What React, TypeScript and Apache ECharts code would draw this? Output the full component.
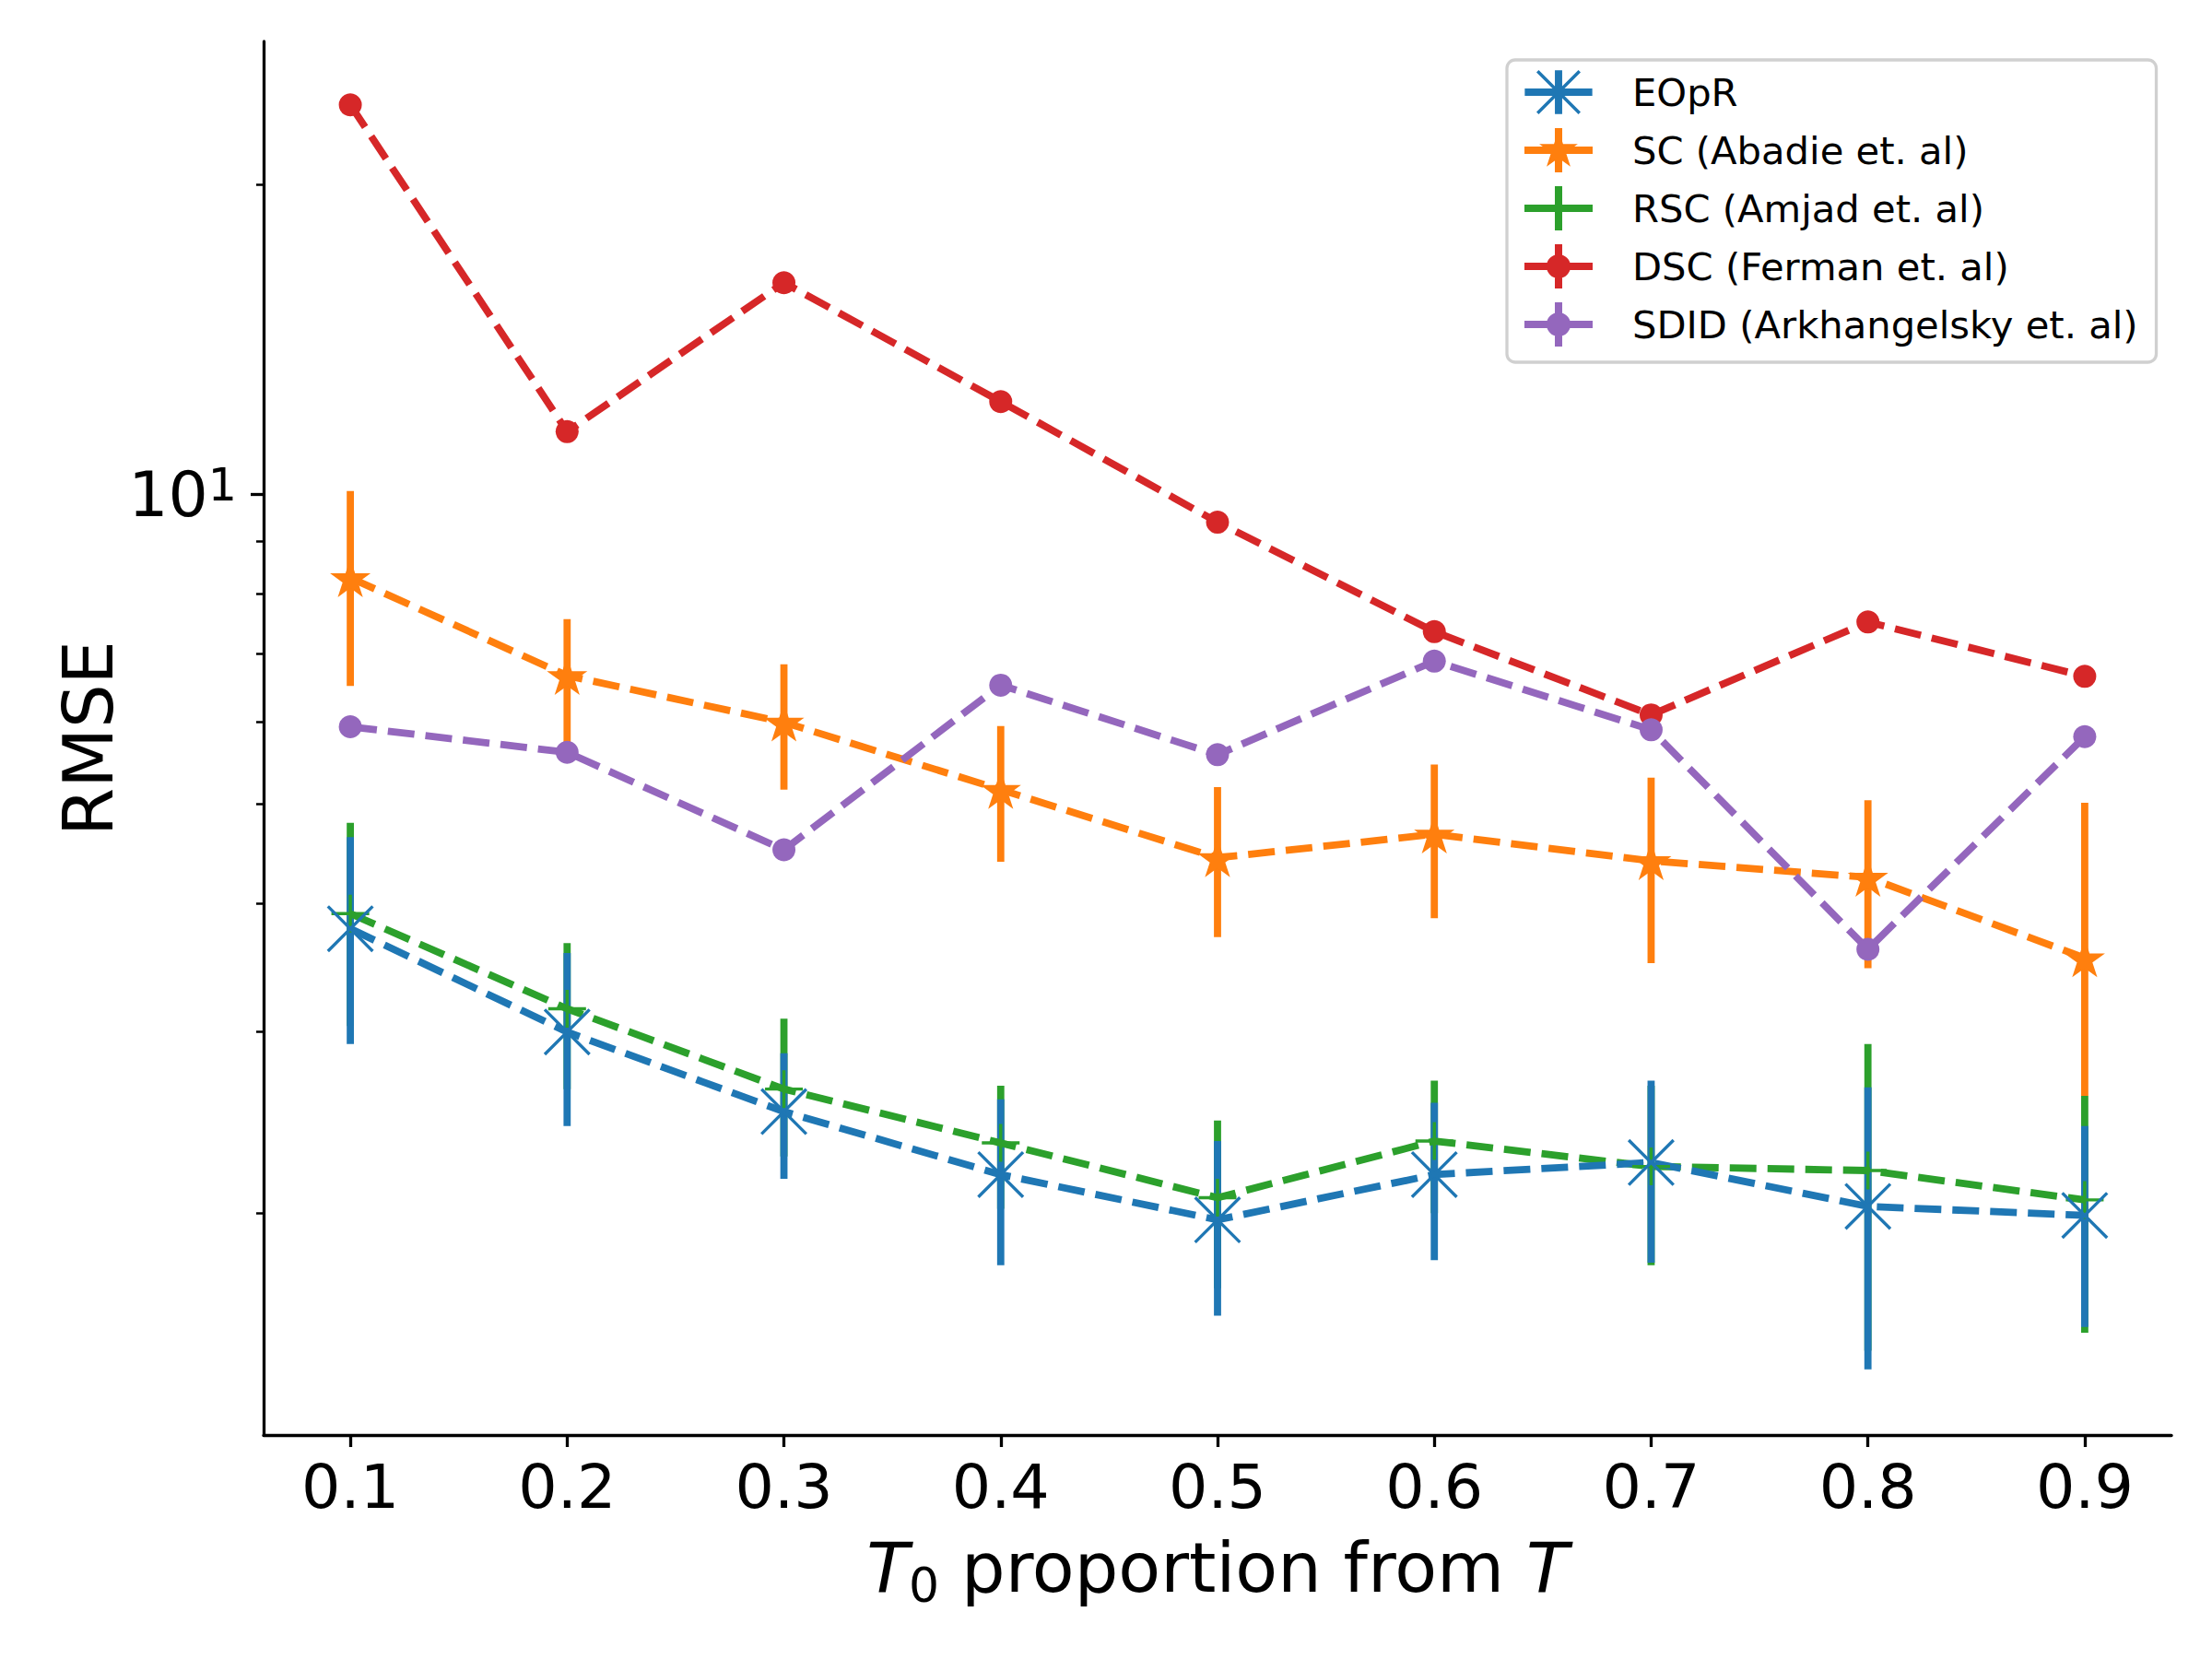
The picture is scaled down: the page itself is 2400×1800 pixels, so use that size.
import React, { useEffect, useRef } from 'react';
import * as echarts from 'echarts';

// ---------- data ----------
const xValues = [0.1, 0.2, 0.3, 0.4, 0.5, 0.6, 0.7, 0.8, 0.9];
const xTickValues = [0.1, 0.2, 0.3, 0.4, 0.5, 0.6, 0.7, 0.8, 0.9];
const yMinorTicks = [2, 3, 4, 5, 6, 7, 8, 9, 20];
const yMajorTicks = [10];

const seriesNames = [
  'EOpR',
  'SC (Abadie et. al)',
  'RSC (Amjad et. al)',
  'DSC (Ferman et. al)',
  'SDID (Arkhangelsky et. al)',
];

const eoprMean = [3.78, 3.0, 2.51, 2.18, 1.97, 2.18, 2.24, 2.03, 1.99];
const eoprLow = [2.92, 2.43, 2.16, 1.78, 1.59, 1.8, 1.79, 1.41, 1.55];
const eoprHigh = [4.64, 3.58, 2.86, 2.58, 2.35, 2.56, 2.69, 2.65, 2.43];

const scMean = [8.29, 6.66, 6.0, 5.16, 4.43, 4.67, 4.4, 4.24, 3.54];
const scLow = [6.51, 5.68, 5.16, 4.39, 3.71, 3.87, 3.5, 3.46, 2.6];
const scHigh = [10.07, 7.56, 6.83, 5.95, 5.19, 5.46, 5.3, 5.04, 5.01];

const rscMean = [3.91, 3.16, 2.64, 2.34, 2.07, 2.35, 2.22, 2.2, 2.06];
const rscLow = [3.04, 2.64, 2.27, 2.02, 1.69, 2.0, 1.78, 1.47, 1.53];
const rscHigh = [4.79, 3.66, 3.09, 2.66, 2.46, 2.69, 2.66, 2.92, 2.6];

const dscMean = [23.9, 11.5, 16.05, 12.3, 9.39, 7.35, 6.1, 7.51, 6.65];
const sdidMean = [5.94, 5.61, 4.51, 6.52, 5.58, 6.88, 5.9, 3.61, 5.81];

// ---------- styling ----------
const FONT = 'DejaVu Sans';
const C_BLUE = '#1f77b4';
const C_ORANGE = '#ff7f0e';
const C_GREEN = '#2ca02c';
const C_RED = '#d62728';
const C_PURPLE = '#9467bd';

// ---------- shape helpers (geometry only) ----------
const f = (n: number) => n.toFixed(3);
const rect = (x: number, y: number, w: number, h: number) =>
  `M${f(x)},${f(y)}L${f(x + w)},${f(y)}L${f(x + w)},${f(y + h)}L${f(x)},${f(y + h)}Z`;
const seg = (x1: number, y1: number, x2: number, y2: number, t: number) => {
  const dx = x2 - x1;
  const dy = y2 - y1;
  const len = Math.hypot(dx, dy);
  const nx = (-dy / len) * (t / 2);
  const ny = (dx / len) * (t / 2);
  return `M${f(x1 - nx)},${f(y1 - ny)}L${f(x2 - nx)},${f(y2 - ny)}L${f(x2 + nx)},${f(y2 + ny)}L${f(x1 + nx)},${f(y1 + ny)}Z`;
};
const star = (cx: number, cy: number, ro: number, ri: number) => {
  let d = '';
  for (let k = 0; k < 10; k++) {
    const r = k % 2 === 0 ? ro : ri;
    const a = ((-90 + 36 * k) * Math.PI) / 180;
    d += `${k === 0 ? 'M' : 'L'}${f(cx + r * Math.cos(a))},${f(cy + r * Math.sin(a))}`;
  }
  return d + 'Z';
};
const circle = (cx: number, cy: number, r: number) =>
  `M${f(cx - r)},${f(cy)}A${f(r)},${f(r)},0,0,1,${f(cx + r)},${f(cy)}A${f(r)},${f(r)},0,0,1,${f(cx - r)},${f(cy)}Z`;

const xSymbol = 'path://' + seg(-1, -1, 1, 1, 0.14) + seg(1, -1, -1, 1, 0.14);
const plusSymbol = 'path://' + seg(-1, 0, 1, 0, 0.17) + seg(0, -1, 0, 1, 0.17);
const starSymbol = 'path://' + star(0, 0, 1, 0.382);

// legend icons: 74 x 48 box, handle line + errorbar + marker
const IW = 74;
const IH = 48;
const iconBase = rect(0, IH / 2 - 4, IW, 8) + rect(IW / 2 - 4, 0, 8, IH);
const legendIcons = [
  'path://' + iconBase + seg(IW / 2 - 23, IH / 2 - 23, IW / 2 + 23, IH / 2 + 23, 3.5) + seg(IW / 2 + 23, IH / 2 - 23, IW / 2 - 23, IH / 2 + 23, 3.5),
  'path://' + iconBase + star(IW / 2, IH / 2, 22, 8.4),
  'path://' + iconBase,
  'path://' + iconBase + circle(IW / 2, IH / 2, 13),
  'path://' + iconBase + circle(IW / 2, IH / 2, 13),
];

function lineSeries(name: string, values: number[], color: string, symbol: string, size: number | number[]) {
  return {
    type: 'line',
    name,
    data: xValues.map((x, i) => [x, values[i]]),
    symbol,
    symbolSize: size,
    symbolKeepAspect: true,
    showAllSymbol: true,
    lineStyle: { color, width: 7.8, type: [29, 12], cap: 'butt' },
    itemStyle: { color, borderWidth: 0 },
    emphasis: { disabled: true },
    silent: true,
  };
}

function errSeries(name: string, lo: number[], hi: number[], color: string) {
  return {
    type: 'custom',
    name,
    data: xValues.map((x, i) => [x, lo[i], hi[i]]),
    encode: { x: 0, y: [1, 2] },
    silent: true,
    renderItem: (_params: any, api: any) => {
      const x = api.value(0);
      const a = api.coord([x, api.value(1)]);
      const b = api.coord([x, api.value(2)]);
      return {
        type: 'line',
        shape: { x1: a[0], y1: a[1], x2: b[0], y2: b[1] },
        style: { stroke: color, lineWidth: 7.8, lineCap: 'butt' },
      };
    },
  };
}

const Y_MIN = 1.217;
const Y_MAX = 27.54;

export default function App() {
  const ref = useRef<HTMLDivElement>(null);

  useEffect(() => {
    if (!ref.current) return;
    const chart = echarts.init(ref.current, undefined, { renderer: 'svg' });
    const baseY = {
      type: 'log',
      logBase: 10,
      min: Y_MIN,
      max: Y_MAX,
      position: 'left',
      splitLine: { show: false },
    };
    chart.setOption({
      animation: false,
      backgroundColor: '#ffffff',
      textStyle: { fontFamily: FONT },
      grid: { left: 286, right: 44, top: 45, bottom: 243, outerBoundsMode: 'none' },
      xAxis: {
        type: 'value',
        min: 0.06,
        max: 0.94,
        splitLine: { show: false },
        axisLine: { show: true, lineStyle: { color: '#000', width: 3.3 } },
        axisTick: { show: true, customValues: xTickValues, length: 13, lineStyle: { color: '#000', width: 3.3 } },
        axisLabel: {
          customValues: xTickValues,
          formatter: (v: number) => v.toFixed(1),
          fontFamily: FONT,
          fontSize: 66.7,
          color: '#000',
          margin: 22,
        },
        name: '{i|T}{sub|0}{n| proportion from }{i|T}',
        nameLocation: 'middle',
        nameGap: 106,
        nameTextStyle: {
          fontFamily: FONT,
          fontSize: 75,
          color: '#000',
          rich: {
            i: { fontFamily: FONT, fontSize: 75, fontStyle: 'italic', lineHeight: 75, color: '#000' },
            n: { fontFamily: FONT, fontSize: 75, lineHeight: 75, color: '#000' },
            sub: { fontFamily: FONT, fontSize: 52, lineHeight: 36, padding: [38, 0, 0, 0], color: '#000' },
          },
        },
      },
      yAxis: [
        {
          ...baseY,
          axisLine: { show: true, lineStyle: { color: '#000', width: 3.3 } },
          axisTick: { show: true, customValues: yMinorTicks, length: 8, lineStyle: { color: '#000', width: 2.5 } },
          axisLabel: { show: false },
          name: 'RMSE',
          nameLocation: 'middle',
          nameGap: 153,
          nameTextStyle: { fontFamily: FONT, fontSize: 75, color: '#000' },
        },
        {
          ...baseY,
          axisLine: { show: false },
          axisTick: { show: true, customValues: yMajorTicks, length: 14, lineStyle: { color: '#000', width: 3.3 } },
          axisLabel: {
            customValues: yMajorTicks,
            formatter: () => '{b|10}{s|1}',
            margin: 29,
            rich: {
              b: { fontFamily: FONT, fontSize: 68, lineHeight: 68, color: '#000' },
              s: { fontFamily: FONT, fontSize: 49, lineHeight: 38, verticalAlign: 'top', color: '#000' },
            },
          },
        },
      ],
      legend: {
        orient: 'vertical',
        left: 1635,
        top: 65,
        padding: [11, 20, 17, 19],
        itemWidth: IW,
        itemHeight: IH,
        itemGap: 15,
        backgroundColor: '#ffffff',
        borderColor: '#d0d0d0',
        borderWidth: 3.3,
        borderRadius: 9,
        selectedMode: false,
        itemStyle: { borderWidth: 0 },
        textStyle: { fontFamily: FONT, fontSize: 41.7, color: '#000', lineHeight: 48, padding: [0, 0, 0, 38] },
        data: seriesNames.map((name, i) => ({ name, icon: legendIcons[i] })),
      },
      series: [
        errSeries('SC err', scLow, scHigh, C_ORANGE),
        lineSeries(seriesNames[1], scMean, C_ORANGE, starSymbol, 44),
        errSeries('RSC err', rscLow, rscHigh, C_GREEN),
        lineSeries(seriesNames[2], rscMean, C_GREEN, plusSymbol, 41),
        lineSeries(seriesNames[3], dscMean, C_RED, 'circle', 25),
        lineSeries(seriesNames[4], sdidMean, C_PURPLE, 'circle', 25),
        errSeries('EOpR err', eoprLow, eoprHigh, C_BLUE),
        lineSeries(seriesNames[0], eoprMean, C_BLUE, xSymbol, 51),
      ],
    });
    return () => chart.dispose();
  }, []);

  return (
    <div
      ref={ref}
      style={{ position: 'absolute', left: 0, top: 0, width: 2400, height: 1800, background: '#fff' }}
    />
  );
}
